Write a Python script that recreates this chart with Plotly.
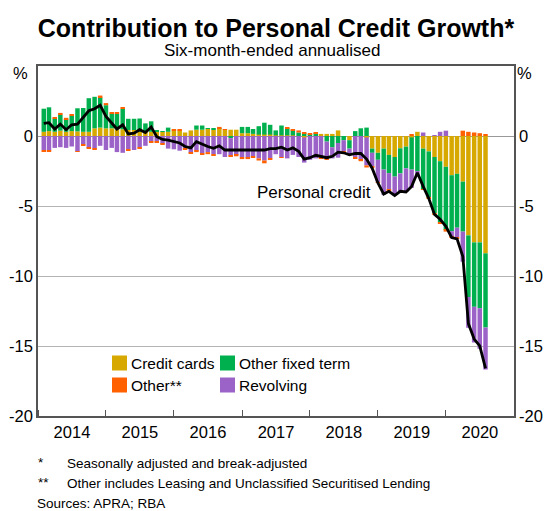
import pandas as pd
import plotly.graph_objects as go

# ---------------- data (six-month-ended annualised contribution, ppt) ----------------
months = pd.date_range("2014-01-01", "2020-07-01", freq="MS").strftime("%Y-%m-%d").tolist()

credit_cards = [0.3, 0.35, 0.3, 0.38, 0.3, 0.35, 0.33, 0.3, 0.3, 0.55,
                0.6, 0.55, 0.55, 0.48, 0.48, 0.43, 0.43, 0.3, 0.3, 0.3,
                0.3, 0.3, 0.3, 0.4, 0.4, 0.25, 0.4, 0.45, 0.45, 0.5,
                0.45, 0.5, 0.45, 0.45, 0.45, 0.2, 0.2, 0.15, 0.1, 0.1,
                0.1, 0.05, 0.05, 0.05, 0.05, 0.0, -0.1, 0.0, 0.0, 0.15,
                0.15, 0.15, 0.4, 0.0, -0.3, 0.0, 0.0, -0.1, -0.9, -1.2,
                -0.9, -1.35, -1.5, -0.88, -0.76, -0.1, 0.3, -0.9, -1.1, -1.5,
                -1.8, -2.2, -2.8, -2.7, -3.26, -7.1, -7.6, -7.6, -8.38]

other_fixed_term = [1.65, 1.7, 0.95, 1.15, 0.9, 1.1, 1.65, 1.7, 2.4, 2.25,
                    2.15, 1.65, 1.05, 1.1, 1.45, 0.8, 0.8, 0.95, 0.6, 0.75,
                    0.1, 0.05, 0.3, 0.0, 0.0, 0.0, 0.0, 0.3, 0.3, 0.05,
                    0.1, 0.05, 0.0, -0.15, 0.0, 0.45, 0.45, 0.35, 0.6, 0.85,
                    0.7, 0.35, 0.7, 0.5, 0.35, 0.25, 0.2, 0.12, 0.2, 0.0,
                    -0.4, -0.8, -0.5, -0.3, -0.6, 0.35, 0.55, 0.6, -0.3, -0.5,
                    -1.5, -1.3, -1.4, -1.79, -1.55, -2.3, -2.5, -2.9, -3.3, -4.0,
                    -4.35, -4.5, -4.0, -3.85, -3.57, -4.4, -4.6, -4.7, -5.3]

revolving = [-1.0, -1.05, -0.85, -0.8, -0.85, -0.75, -1.1, -0.6, -0.85, -0.9,
             -0.7, -1.0, -0.85, -1.15, -1.2, -0.95, -1.0, -0.8, -0.7, -0.4,
             -0.4, -0.55, -0.9, -0.95, -1.05, -0.9, -1.2, -1.05, -1.25, -1.15,
             -1.3, -1.3, -1.5, -1.25, -1.35, -1.5, -1.55, -1.45, -1.6, -1.75,
             -1.6, -1.3, -1.5, -1.6, -1.35, -1.5, -1.8, -1.7, -1.6, -1.5,
             -1.25, -0.8, -1.05, -0.8, -0.4, -1.5, -1.7, -2.0, -1.0, -1.6,
             -1.8, -1.2, -1.35, -1.28, -1.69, -1.3, -0.4, 0.25, 0.0, 0.05,
             0.3, 0.38, -0.4, -0.7, -2.15, -2.2, -2.55, -2.9, -3.0]

other = [-0.1, -0.05, 0.07, 0.12, 0.1, 0.1, -0.03, -0.1, -0.05, -0.05,
         0.14, 0.15, 0.07, 0.1, 0.1, -0.12, 0.0, -0.07, 0.0, -0.05,
         -0.07, -0.05, 0.0, 0.1, 0.1, -0.1, -0.05, -0.1, -0.1, -0.15,
         -0.1, 0.1, 0.05, -0.05, -0.1, -0.15, -0.1, -0.1, -0.15, -0.2,
         -0.1, 0.0, -0.05, 0.05, 0.1, 0.15, 0.05, 0.05, 0.05, -0.1,
         -0.05, 0.0, 0.0, -0.1, -0.05, -0.1, -0.1, -0.15, -0.1, -0.05,
         0.0, -0.05, 0.0, 0.0, 0.0, 0.1, 0.0, -0.05, -0.05, -0.1,
         -0.1, -0.13, -0.05, -0.1, 0.38, 0.3, 0.25, 0.2, 0.08]

personal_credit = [0.9, 0.95, 0.5, 0.85, 0.45, 0.8, 0.85, 1.35, 1.8, 1.95,
                   2.2, 1.4, 0.95, 0.5, 0.8, 0.15, 0.2, 0.45, 0.25, 0.65,
                   -0.05, -0.25, -0.3, -0.4, -0.5, -0.75, -0.85, -0.4, -0.6, -0.75,
                   -0.88, -0.7, -1.0, -1.0, -1.0, -1.0, -1.0, -1.05, -1.05, -1.0,
                   -0.9, -0.9, -0.8, -1.0, -0.85, -1.1, -1.65, -1.55, -1.38, -1.48,
                   -1.55, -1.45, -1.15, -1.2, -1.35, -1.25, -1.25, -1.65, -2.3, -3.35,
                   -4.15, -3.95, -4.25, -3.95, -4.0, -3.6, -2.62, -3.6, -4.45, -5.6,
                   -5.95, -6.45, -7.25, -7.35, -8.6, -13.4, -14.5, -15.0, -16.6]

y_ticks = [-20, -15, -10, -5, 0]
y_tick_labels = ["-20", "-15", "-10", "-5", "0"]

series = [("Credit cards", credit_cards, "#D6A800"),
          ("Other fixed term", other_fixed_term, "#00B04F"),
          ("Revolving", revolving, "#9B62C8"),
          ("Other**", other, "#FF6000")]

for _, vals, _c in series:
    assert len(vals) == len(months)
assert len(personal_credit) == len(months)

FONT = "Arial, 'Liberation Sans', Helvetica, sans-serif"

fig = go.Figure()
for name, vals, col in series:
    fig.add_trace(go.Bar(
        x=months, y=vals, name=name, marker=dict(color=col, line=dict(width=0)),
        xperiod="M1", xperiodalignment="end", showlegend=False))

fig.add_trace(go.Scatter(
    x=months, y=personal_credit, name="Personal credit", mode="lines",
    line=dict(color="black", width=2.8), xperiod="M1", xperiodalignment="end",
    showlegend=False))

axis_col = "#555555"
fig.update_layout(
    width=544, height=511, autosize=False,
    margin=dict(l=38, r=30, t=66, b=95, pad=0, autoexpand=False),
    paper_bgcolor="white", plot_bgcolor="white",
    barmode="relative", bargap=0.14,
    font=dict(family=FONT, size=16, color="black"),
    title=dict(text="<b>Contribution to Personal Credit Growth*</b>",
               x=0.5, xref="paper", xanchor="center", y=1 - 28 / 511, yanchor="middle",
               automargin=False,
               font=dict(size=25, family=FONT, color="black")),
    xaxis=dict(type="date", range=["2014-01-01", "2021-01-01"], automargin=False,
               dtick="M12", tick0="2014-01-01", tickformat="%Y", ticklabelmode="period",
               ticks="inside", ticklen=6, tickcolor=axis_col, tickwidth=1.2,
               showgrid=False, showline=True, linecolor=axis_col, linewidth=1.5, mirror=True,
               tickfont=dict(size=16.5)),
    yaxis=dict(range=[-20, 5], tickvals=y_ticks, ticktext=y_tick_labels, ticks="",
               automargin=False, showgrid=True,
               gridcolor="#B4B4B4", gridwidth=1, zeroline=True, zerolinecolor="#999999",
               zerolinewidth=1, showline=True, linecolor=axis_col, linewidth=1.5, mirror=True,
               tickfont=dict(size=16.5)),
)

def px_x(x):
    return (x - 38) / 476.0

def px_y(y):
    return (416 - y) / 350.0

ann = []
ann.append(dict(text="Six-month-ended annualised", x=px_x(272), y=px_y(51),
                xref="paper", yref="paper", showarrow=False, xanchor="center",
                yanchor="middle", font=dict(size=17)))
ann.append(dict(text="%", x=px_x(30), y=px_y(73), xref="paper", yref="paper",
                showarrow=False, xanchor="right", yanchor="middle", font=dict(size=16.5)))
ann.append(dict(text="%", x=px_x(515), y=px_y(73), xref="paper", yref="paper",
                showarrow=False, xanchor="left", yanchor="middle", font=dict(size=16.5)))
ann.append(dict(text="Personal credit", x="2017-03-10", y=-4.0, xref="x", yref="y",
                showarrow=False, xanchor="left", yanchor="middle", font=dict(size=17)))

# right-hand tick labels (same scale as the left axis)
for v, t in zip(y_ticks, y_tick_labels):
    ann.append(dict(text=t, x=px_x(517), y=v, xref="paper", yref="y", showarrow=False,
                    xanchor="left", yanchor="middle", font=dict(size=16.5)))

# legend (manual, two columns)
legend_items = [("Credit cards", "#D6A800", 112, 363), ("Other fixed term", "#00B04F", 220, 363),
                ("Other**", "#FF6000", 112, 385), ("Revolving", "#9B62C8", 220, 385)]
shapes = []
for label, col, sx, cy in legend_items:
    shapes.append(dict(type="rect", xref="paper", yref="paper",
                       x0=px_x(sx), x1=px_x(sx + 15), y0=px_y(cy + 7.5), y1=px_y(cy - 7.5),
                       fillcolor=col, line=dict(width=0), layer="above"))
    ann.append(dict(text=label, x=px_x(sx + 17), y=px_y(cy), xref="paper", yref="paper",
                    showarrow=False, xanchor="left", yanchor="middle", font=dict(size=15.5)))

# footnotes
foot = [("*", 36, 462), ("Seasonally adjusted and break-adjusted", 65, 463),
        ("**", 36, 482), ("Other includes Leasing and Unclassified Securitised Lending", 65, 483),
        ("Sources: APRA; RBA", 35, 503.5)]
for t, fx, fy in foot:
    ann.append(dict(text=t, x=px_x(fx), y=px_y(fy), xref="paper", yref="paper",
                    showarrow=False, xanchor="left", yanchor="middle", font=dict(size=13.5)))

fig.update_layout(annotations=ann, shapes=shapes)
fig.write_html("out.html", config={"displayModeBar": False},
               post_script="document.body.style.margin='0';document.body.style.overflow='hidden';")
